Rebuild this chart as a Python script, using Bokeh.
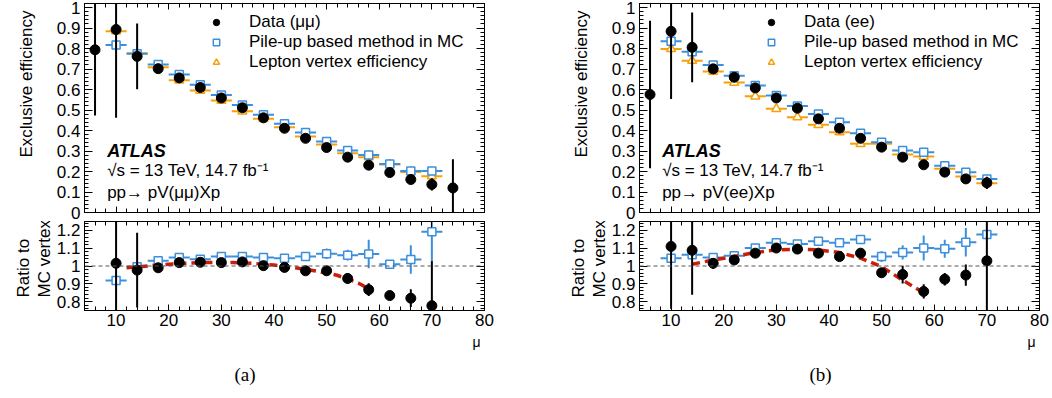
import math
from bokeh.plotting import figure
from bokeh.layouts import row, column
from bokeh.models import (Range1d, Label, Legend, LegendItem, Span, LinearAxis, Title,
                          SingleIntervalTicker, FixedTicker, CustomJSTickFormatter)
from bokeh.embed import file_html
from bokeh.resources import INLINE

# ---------------- data: panel (a) mu mu ----------------
mu_data_mm = [6, 10, 14, 18, 22, 26, 30, 34, 38, 42, 46, 50, 54, 58, 62, 66, 70, 74]
eff_data_mm = [0.794, 0.893, 0.762, 0.702, 0.657, 0.610, 0.559, 0.511, 0.462, 0.411,
               0.362, 0.317, 0.270, 0.231, 0.195, 0.161, 0.137, 0.120]
err_data_mm = [0.32, 0.43, 0.16, 0.01, 0.01, 0.01, 0.01, 0.01, 0.01, 0.01,
               0.01, 0.01, 0.012, 0.015, 0.015, 0.015, 0.03, 0.14]
mu_mc = [10, 14, 18, 22, 26, 30, 34, 38, 42, 46, 50, 54, 58, 62, 66, 70]
mu_bin_width = 4.0
eff_pileup_mm = [0.818, 0.775, 0.722, 0.673, 0.623, 0.574, 0.525, 0.477, 0.433, 0.390,
                 0.346, 0.302, 0.281, 0.237, 0.203, 0.203]
eff_lepvtx_mm = [0.885, 0.777, 0.709, 0.645, 0.595, 0.546, 0.494, 0.457, 0.416, 0.371,
                 0.332, 0.289, 0.270, 0.234, 0.198, 0.177]
ratio_data_mm = [1.015, 0.977, 0.990, 1.019, 1.021, 1.019, 1.023, 1.002, 0.992, 0.973,
                 0.973, 0.930, 0.867, 0.834, 0.819, 0.777]
ratio_data_mm_err = [0.35, 0.21, 0.02, 0.012, 0.01, 0.01, 0.01, 0.012, 0.015, 0.02,
                     0.025, 0.03, 0.036, 0.025, 0.05, 0.25]
ratio_pileup_mm = [0.918, 0.996, 1.030, 1.048, 1.038, 1.053, 1.053, 1.048, 1.044, 1.053,
                   1.069, 1.061, 1.067, 1.010, 1.036, 1.193]
ratio_pileup_mm_err = [0.005, 0.005, 0.015, 0.01, 0.01, 0.01, 0.012, 0.012, 0.015, 0.02,
                       0.03, 0.03, 0.08, 0.02, 0.08, 0.17]
fit_mu_mm = [12, 16, 20, 24, 28, 32, 36, 40, 44, 48, 52, 56, 58]
fit_ratio_mm = [0.99, 1.0, 1.01, 1.017, 1.02, 1.02, 1.015, 1.005, 0.99, 0.972, 0.948, 0.905, 0.872]

# ---------------- data: panel (b) e e ----------------
mu_data_ee = [6, 10, 14, 18, 22, 26, 30, 34, 38, 42, 46, 50, 54, 58, 62, 66, 70]
eff_data_ee = [0.576, 0.884, 0.806, 0.701, 0.660, 0.608, 0.559, 0.509, 0.457, 0.411,
               0.362, 0.319, 0.270, 0.233, 0.197, 0.164, 0.145]
err_data_ee = [0.36, 0.33, 0.17, 0.01, 0.01, 0.01, 0.01, 0.01, 0.01, 0.01,
               0.01, 0.01, 0.012, 0.012, 0.012, 0.015, 0.03]
eff_pileup_ee = [0.836, 0.785, 0.720, 0.668, 0.620, 0.571, 0.520, 0.481, 0.440, 0.387,
                 0.343, 0.302, 0.294, 0.228, 0.197, 0.164]
eff_lepvtx_ee = [0.798, 0.741, 0.688, 0.634, 0.567, 0.506, 0.465, 0.428, 0.392, 0.335,
                 0.335, 0.283, 0.273, 0.213, 0.176, 0.143]
ratio_data_ee = [1.110, 1.088, 1.015, 1.034, 1.072, 1.101, 1.095, 1.072, 1.053, 1.072,
                 0.962, 0.952, 0.857, 0.926, 0.949, 1.029]
ratio_data_ee_err = [0.35, 0.25, 0.03, 0.02, 0.015, 0.015, 0.015, 0.02, 0.025, 0.025,
                     0.025, 0.05, 0.04, 0.035, 0.06, 0.3]
ratio_pileup_ee = [1.044, 1.063, 1.048, 1.057, 1.101, 1.130, 1.124, 1.139, 1.130, 1.149,
                   1.053, 1.076, 1.101, 1.097, 1.133, 1.177]
ratio_pileup_ee_err = [0.005, 0.01, 0.02, 0.015, 0.012, 0.012, 0.012, 0.015, 0.02, 0.025,
                       0.03, 0.04, 0.07, 0.05, 0.08, 0.01]
fit_mu_ee = [14, 18, 22, 26, 30, 34, 38, 42, 46, 50, 54, 58]
fit_ratio_ee = [1.01, 1.034, 1.053, 1.076, 1.09, 1.095, 1.09, 1.076, 1.044, 0.996, 0.92, 0.85]

FONT = "Liberation Sans"
FS = "17px"
BLACK = "black"
BLUE = "#3c8fdc"
ORANGE = "#f7a00a"
RED = "#c81e0a"

fmt = CustomJSTickFormatter(code="return String(Number(tick.toFixed(2)));")

X_MAJ = [10 * i for i in range(1, 9)]
X_MIN = [4 + 2 * i for i in range(39) if (4 + 2 * i) % 10 != 0]
Y_MAJ_TOP = [round(0.1 * i, 2) for i in range(11)]
Y_MIN_TOP = [round(0.02 * i, 2) for i in range(52) if i % 5 != 0]
Y_MAJ_RAT = [0.8, 0.9, 1.0, 1.1, 1.2]
Y_MIN_RAT = [round(0.76 + 0.02 * i, 2) for i in range(25) if (i + 3) % 5 != 0]


def style_axis(ax):
    ax.major_tick_in = 8
    ax.major_tick_out = 0
    ax.minor_tick_in = 4
    ax.minor_tick_out = 0
    ax.axis_line_color = BLACK
    ax.major_tick_line_color = BLACK
    ax.minor_tick_line_color = BLACK
    ax.major_label_text_font = FONT
    ax.major_label_text_color = BLACK
    ax.major_label_text_font_size = FS
    ax.major_label_standoff = 4


def tick_axes(p, side, majors, minors, maj_len):
    """axes on the frame edge that carry only ticks (no labels)"""
    for pos, ln in ((majors, maj_len), (minors, 4)):
        ax = LinearAxis(ticker=FixedTicker(ticks=[], minor_ticks=pos))
        ax.minor_tick_in = ln
        ax.minor_tick_out = 0
        ax.major_tick_in = 0
        ax.major_tick_out = 0
        ax.axis_line_color = BLACK
        ax.minor_tick_line_color = BLACK
        ax.major_label_standoff = 0
        p.add_layout(ax, side)


def top_panel(width, right_border, mu_d, eff_d, err_d, eff_pu, eff_lv, chan):
    p = figure(width=width, height=221, x_range=Range1d(4, 80), y_range=Range1d(0, 1.02),
               output_backend="svg", toolbar_location=None, x_axis_location=None,
               min_border_left=84, min_border_right=right_border,
               min_border_top=3, min_border_bottom=9, background_fill_color="white",
               border_fill_color="white")
    p.yaxis.ticker = SingleIntervalTicker(interval=0.1, num_minor_ticks=5)
    p.yaxis.formatter = fmt
    style_axis(p.yaxis[0])
    tick_axes(p, "below", X_MAJ, X_MIN, 6)
    tick_axes(p, "above", X_MAJ, X_MIN, 6)
    tick_axes(p, "right", Y_MAJ_TOP, Y_MIN_TOP, 8)
    p.grid.visible = False
    p.outline_line_color = BLACK
    p.add_layout(Title(text="Exclusive efficiency", align="right", vertical_align="top",
                       offset=7, standoff=32,
                       text_font=FONT, text_font_size=FS, text_font_style="normal",
                       text_color=BLACK), "left")

    hw = mu_bin_width / 2
    p.segment(x0=[m - hw for m in mu_mc], x1=[m + hw for m in mu_mc], y0=eff_lv, y1=eff_lv,
              line_color=ORANGE, line_width=2)
    r_lv = p.scatter(x=mu_mc, y=eff_lv, marker="triangle", size=9, fill_color="white",
                     line_color=ORANGE, line_width=1.5)
    p.segment(x0=[m - hw for m in mu_mc], x1=[m + hw for m in mu_mc], y0=eff_pu, y1=eff_pu,
              line_color=BLUE, line_width=2)
    r_pu = p.scatter(x=mu_mc, y=eff_pu, marker="square", size=8, fill_color="white",
                     line_color=BLUE, line_width=1.5)
    p.segment(x0=mu_d, x1=mu_d, y0=[v - e for v, e in zip(eff_d, err_d)],
              y1=[v + e for v, e in zip(eff_d, err_d)], line_color=BLACK, line_width=2)
    r_d = p.scatter(x=mu_d, y=eff_d, marker="circle", size=10, fill_color=BLACK,
                    line_color=BLACK)

    legend = Legend(items=[LegendItem(label="Data (%s)" % chan, renderers=[r_d]),
                           LegendItem(label="Pile-up based method in MC", renderers=[r_pu]),
                           LegendItem(label="Lepton vertex efficiency", renderers=[r_lv])],
                    location=(124, 140), padding=0, spacing=0, margin=0,
                    glyph_width=16, glyph_height=20, label_height=20, label_standoff=25,
                    label_text_font=FONT, label_text_font_size=FS, label_text_color=BLACK,
                    border_line_color=None, background_fill_alpha=0)
    p.add_layout(legend)

    p.add_layout(Label(x=8.3, y=0.302, text="ATLAS", text_font=FONT, text_font_size="18px",
                       text_font_style="bold italic", text_baseline="middle", text_color=BLACK))
    p.add_layout(Label(x=8.3, y=0.205, text="\u221as = 13 TeV, 14.7 fb\u207b\u00b9", text_font=FONT,
                       text_font_size=FS, text_baseline="middle", text_color=BLACK))
    p.add_layout(Label(x=8.3, y=0.098, text="pp\u2192  pV(%s)Xp" % chan, text_font=FONT,
                       text_font_size=FS, text_baseline="middle", text_color=BLACK))
    return p


def ratio_panel(width, right_border, r_d, r_d_err, r_pu, r_pu_err, fit_x, fit_y, tag, tag_off):
    p = figure(width=width, height=177, x_range=Range1d(4, 80), y_range=Range1d(0.75, 1.25),
               output_backend="svg", toolbar_location=None,
               min_border_left=84, min_border_right=right_border,
               min_border_top=0, min_border_bottom=88, background_fill_color="white",
               border_fill_color="white")
    p.xaxis.ticker = SingleIntervalTicker(interval=10, num_minor_ticks=5)
    p.yaxis.ticker = SingleIntervalTicker(interval=0.1, num_minor_ticks=5)
    p.yaxis.formatter = fmt
    style_axis(p.xaxis[0])
    style_axis(p.yaxis[0])
    p.xaxis[0].major_tick_in = 6
    p.xaxis[0].major_label_standoff = 3
    tick_axes(p, "above", X_MAJ, X_MIN, 6)
    tick_axes(p, "right", Y_MAJ_RAT, Y_MIN_RAT, 8)
    p.grid.visible = False
    p.outline_line_color = BLACK
    p.add_layout(Title(text="MC vertex", align="left", offset=13, standoff=0,
                       text_font=FONT, text_font_size=FS, text_font_style="normal",
                       text_color=BLACK), "left")
    p.add_layout(Title(text="Ratio to", align="left", offset=13, standoff=0,
                       text_font=FONT, text_font_size=FS, text_font_style="normal",
                       text_color=BLACK), "left")
    p.add_layout(Title(text="\u03bc", align="right", offset=4, standoff=6,
                       text_font=FONT, text_font_size="14px", text_font_style="normal",
                       text_color=BLACK), "below")
    p.add_layout(Title(text=tag, align="left", offset=tag_off, standoff=18,
                       text_font="Liberation Serif", text_font_size="19px",
                       text_font_style="normal", text_color=BLACK), "below")

    p.add_layout(Span(location=1.0, dimension="width", line_color="#555555", line_width=1,
                      line_dash="4 3"))
    hw = mu_bin_width / 2
    p.segment(x0=[m - hw for m in mu_mc], x1=[m + hw for m in mu_mc], y0=r_pu, y1=r_pu,
              line_color=BLUE, line_width=2)
    p.segment(x0=mu_mc, x1=mu_mc, y0=[v - e for v, e in zip(r_pu, r_pu_err)],
              y1=[v + e for v, e in zip(r_pu, r_pu_err)], line_color=BLUE, line_width=2)
    p.scatter(x=mu_mc, y=r_pu, marker="square", size=8, fill_color="white",
              line_color=BLUE, line_width=1.5)
    p.line(x=fit_x, y=fit_y, line_color=RED, line_width=3.5, line_dash="8 5")
    p.segment(x0=mu_mc, x1=mu_mc, y0=[v - e for v, e in zip(r_d, r_d_err)],
              y1=[v + e for v, e in zip(r_d, r_d_err)], line_color=BLACK, line_width=2)
    p.scatter(x=mu_mc, y=r_d, marker="circle", size=10, fill_color=BLACK, line_color=BLACK)
    return p


ta = top_panel(555, 71, mu_data_mm, eff_data_mm, err_data_mm, eff_pileup_mm, eff_lepvtx_mm,
               "\u03bc\u03bc")
ba = ratio_panel(555, 71, ratio_data_mm, ratio_data_mm_err, ratio_pileup_mm,
                 ratio_pileup_mm_err, fit_mu_mm, fit_ratio_mm, "(a)", 150)
tb = top_panel(497, 13, mu_data_ee, eff_data_ee, err_data_ee, eff_pileup_ee, eff_lepvtx_ee,
               "ee")
bb = ratio_panel(497, 13, ratio_data_ee, ratio_data_ee_err, ratio_pileup_ee,
                 ratio_pileup_ee_err, fit_mu_ee, fit_ratio_ee, "(b)", 170)

layout = row(column(ta, ba, spacing=0), column(tb, bb, spacing=0), spacing=0)

open("out.html", "w").write(file_html(layout, INLINE))
